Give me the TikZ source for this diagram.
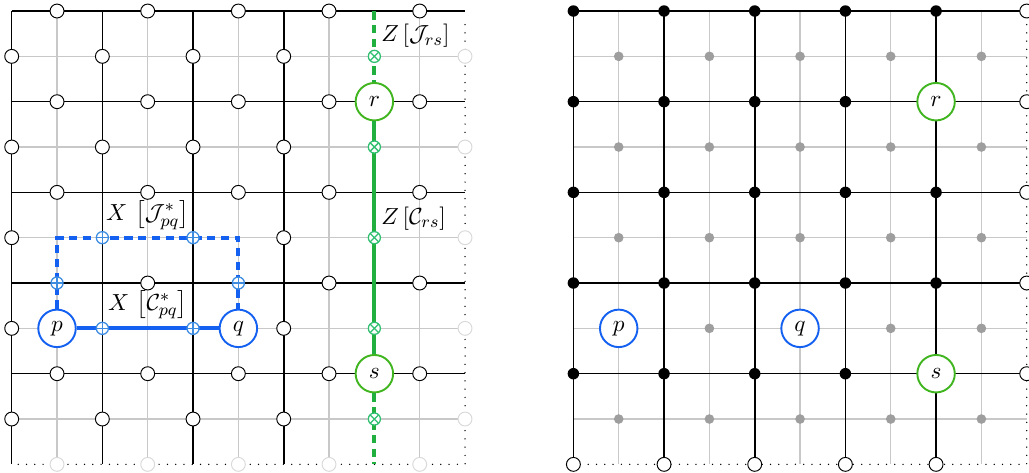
\documentclass[tikz,border=0pt]{standalone}
\usepackage{amsmath,amssymb}
\usepackage{xcolor}
\usepackage{tikz}
\usetikzlibrary{calc}
\definecolor{xblue}{RGB}{20,96,240}
\definecolor{xblueop}{RGB}{61,140,224}
\definecolor{zgreen}{RGB}{33,176,64}
\definecolor{zgreenq}{RGB}{64,181,32}
\definecolor{zgreenop}{RGB}{48,192,112}
\definecolor{gridgray}{RGB}{200,200,200}
\tikzstyle{primal} = [black, line width=0.75pt]
\tikzstyle{dual} = [gridgray, line width=0.55pt]
\tikzstyle{bdry} = [black, line width=0.7pt, line cap=round, dash pattern=on 0pt off 3.9pt]
\tikzstyle{qubit} = [circle, draw=black, fill=white, minimum size=0.23cm, inner sep=0pt, line width=0.45pt]
\tikzstyle{ghost} = [qubit, draw=black!15]
\tikzstyle{plaq} = [circle, fill=black, minimum size=0.19cm, inner sep=0pt]
\tikzstyle{dualplaq} = [circle, fill=black!38, minimum size=0.16cm, inner sep=0pt]
\tikzstyle{defectx} = [circle, draw=xblue, fill=white, line width=0.9pt, minimum size=0.62cm, inner sep=0pt]
\tikzstyle{defectz} = [defectx, draw=zgreenq]
\tikzstyle{xop} = [circle, draw=xblueop, fill=white, minimum size=0.2cm, inner sep=0pt, line width=0.6pt,
  path picture={\draw[xblueop, line width=0.6pt] (path picture bounding box.north) -- (path picture bounding box.south)
    (path picture bounding box.west) -- (path picture bounding box.east);}]
\tikzstyle{zop} = [circle, draw=zgreenop, fill=white, minimum size=0.2cm, inner sep=0pt, line width=0.6pt,
  path picture={\draw[zgreenop, line width=0.6pt]
    ([shift={(45:0.11cm)}]path picture bounding box.center) -- ([shift={(225:0.11cm)}]path picture bounding box.center)
    ([shift={(135:0.11cm)}]path picture bounding box.center) -- ([shift={(-45:0.11cm)}]path picture bounding box.center);}]
\tikzstyle{xchain} = [xblue, line width=1.9pt]
\tikzstyle{zchain} = [zgreen, line width=1.9pt]
\tikzstyle{oplabel} = [inner sep=0.5pt]

\begin{document}
\begin{tikzpicture}[x=0.75cm, y=-0.75cm, font=\fontsize{11}{13}\selectfont]
    \useasboundingbox (-0.258,-0.243) rectangle (22.44,10.17);

    % left lattice: defects with their chains
    \begin{scope}
        \foreach \k in {1,3,...,9} {
            \draw[dual] (\k,0) -- (\k,10);
            \draw[dual] (0,\k) -- (10,\k);
        }
        \foreach \k in {0,2,4,6} \draw[primal] (\k,0) -- (\k,10);
        \foreach \k in {0,2,...,8} \draw[primal] (0,\k) -- (10,\k);
        \draw[bdry] (10,0.3) -- (10,10) -- (0,10);

        \coordinate (ztop) at (8,0);
        \coordinate (zbot) at (8,10);
        \coordinate (xtop) at (3,5);

        \node (p) [defectx] at (1,7) {$p$};
        \node (q) [defectx] at (5,7) {$q$};
        \node (r) [defectz] at (8,2) {$r$};
        \node (s) [defectz] at (8,8) {$s$};

        \draw[zchain, dash pattern=on 4pt off 2.5pt] (ztop) -- (r);
        \draw[zchain] (r) -- (s);
        \draw[zchain, dash pattern=on 4pt off 2.5pt] (s) -- (zbot);
        \draw[xchain] (p) -- (q);
        \draw[xchain, dash pattern=on 4pt off 2.5pt] (p) |- (xtop) -| (q);

        % qubits on the edges
        \foreach \i in {0,2,4,6} \foreach \j in {1,3,...,9} {
            \pgfmathtruncatemacro\isop{(\i==2 || \i==4) && (\j==5 || \j==7)}
            \ifnum\isop=0 \node (a\i-\j) [qubit] at (\i,\j) {}; \fi
        }
        \foreach \i in {1,3,...,9} \foreach \j in {0,2,...,8} {
            \pgfmathtruncatemacro\isop{(\i==1 || \i==5) && \j==6}
            \ifnum\isop=0 \node (a\i-\j) [qubit] at (\i,\j) {}; \fi
        }
        \foreach \k in {1,3,...,9} {
            \node (a10-\k) [ghost] at (10,\k) {};
            \node (a\k-10) [ghost] at (\k,10) {};
        }
        \foreach \j in {1,3,...,9} \node (a8-\j) [zop] at (8,\j) {};
        \node (a2-7) [xop] at (2,7) {};
        \node (a4-7) [xop] at (4,7) {};
        \node (a1-6) [xop] at (1,6) {};
        \node (a5-6) [xop] at (5,6) {};
        \node (a2-5) [xop] at (2,5) {};
        \node (a4-5) [xop] at (4,5) {};

        \node (zj) [oplabel, anchor=west] at (8.12,0.55) {$Z\,[\mathcal{J}_{rs}]$};
        \node (zc) [oplabel, anchor=west] at (8.12,4.57) {$Z\,[\mathcal{C}_{rs}]$};
        \node (xj) [oplabel] at (3,4.5) {$X\,\left[\mathcal{J}^*_{pq}\right]$};
        \node (xc) [oplabel] at (3,6.48) {$X\,\left[\mathcal{C}^*_{pq}\right]$};
    \end{scope}

    % right lattice: plaquettes and defects only
    \begin{scope}[shift={(12.39,0)}]
        \foreach \k in {1,3,...,9} {
            \draw[dual] (\k,0) -- (\k,10);
            \draw[dual] (0,\k) -- (10,\k);
        }
        \foreach \k in {0,2,...,8} {
            \draw[primal] (\k,0) -- (\k,10);
            \draw[primal] (0,\k) -- (10,\k);
        }
        \draw[bdry] (10,0.3) -- (10,10) -- (0,10);

        \foreach \i in {0,2,...,8} \foreach \j in {0,2,...,8} {
            \pgfmathtruncatemacro\isdef{\i==8 && (\j==2 || \j==8)}
            \ifnum\isdef=0 \node (b\i-\j) [plaq] at (\i,\j) {}; \fi
        }
        \foreach \i in {1,3,...,9} \foreach \j in {1,3,...,9} {
            \pgfmathtruncatemacro\isdef{(\i==1 || \i==5) && \j==7}
            \ifnum\isdef=0 \node (b\i-\j) [dualplaq] at (\i,\j) {}; \fi
        }
        \foreach \k in {0,2,...,8} {
            \node (b10-\k) [qubit] at (10,\k) {};
            \node (b\k-10) [qubit] at (\k,10) {};
        }

        \node (p2) [defectx] at (1,7) {$p$};
        \node (q2) [defectx] at (5,7) {$q$};
        \node (r2) [defectz] at (8,2) {$r$};
        \node (s2) [defectz] at (8,8) {$s$};
    \end{scope}
\end{tikzpicture}
\end{document}
